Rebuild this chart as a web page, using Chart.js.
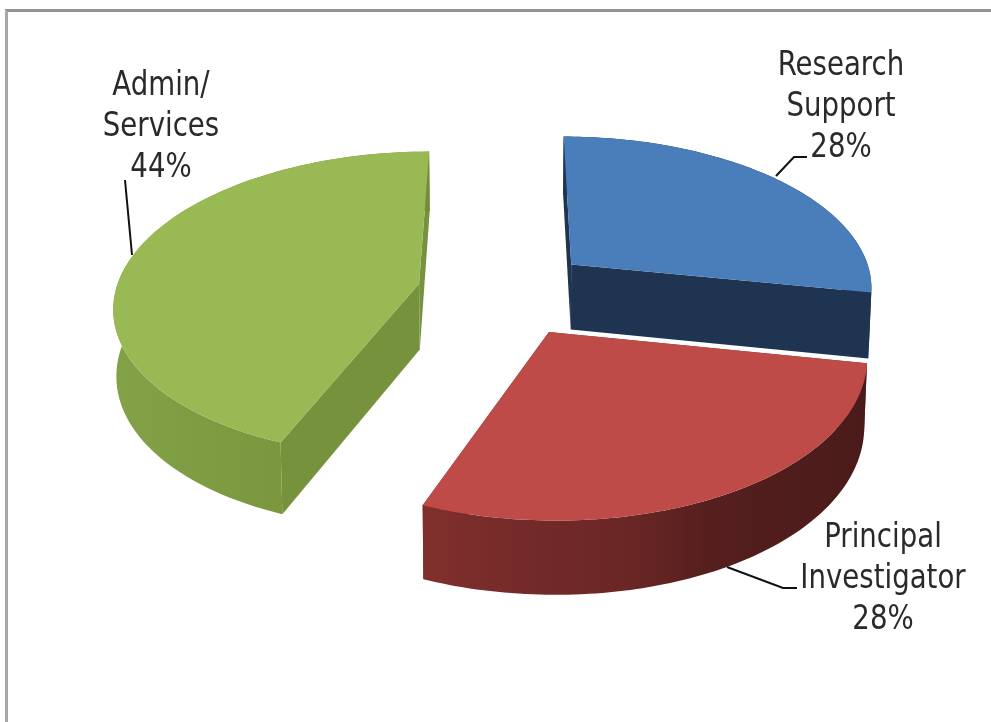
<!DOCTYPE html>
<html>
<head>
<meta charset="utf-8">
<title>Staff breakdown</title>
<script src="https://cdn.jsdelivr.net/npm/chart.js@4"></script>
<style>
  html, body { margin: 0; padding: 0; background: #fff; overflow: hidden; }
  #wrap { position: relative; width: 991px; height: 722px; overflow: hidden; }
  #frame { position: absolute; left: 5px; top: 9px; width: 1000px; height: 740px;
           border-top: 3px solid #929292; border-left: 3px solid #a8a8a8; box-sizing: border-box; pointer-events: none; }
</style>
</head>
<body>
<div id="wrap">
  <canvas id="piechart" width="991" height="722"></canvas>
  <div id="frame"></div>
</div>
<script>
const categories = ["Research Support", "Principal Investigator", "Admin/ Services"];
const labelLines = [["Research", "Support"], ["Principal", "Investigator"], ["Admin/", "Services"]];
const shares = [28, 28, 44];

const topColors = ["#4a7ebb", "#be4b48", "#98b954"];
const cutColors = ["#1f3450", "#7d2e2c", "#76923c"];
// horizontal shading along the outer wall of each slice
const wallStops = [
    [[0, "#1f3450"], [1, "#1f3450"]],
    [[0, "#812f2d"], [0.2, "#752b29"], [0.45, "#6b2725"], [0.65, "#551f1e"], [1, "#4a1b1a"]],
    [[0, "#83a146"], [0.5, "#7b9840"], [1, "#718d3a"]]
];

// perspective of the tilted pie
const tilt = { xScale: 1.04, yScale: 0.52, depth: 0.226, persp: 0.133, depthPersp: 0.1, shrink: 0.008, explode: 0.29 };

function project(arc, X, Y, Z) {
    const r = arc.outerRadius;
    const s = 1 / (1 - tilt.persp * Y);
    return {
        x: arc.x + r * tilt.xScale * X * s * (1 - tilt.shrink * Z),
        y: arc.y + r * tilt.yScale * Y * s + Z * r * tilt.depth * (1 + tilt.depthPersp * Y)
    };
}

function tracePts(ctx, pts) {
    ctx.beginPath();
    pts.forEach((p, i) => i ? ctx.lineTo(p.x, p.y) : ctx.moveTo(p.x, p.y));
    ctx.closePath();
}

function drawSlice(ctx, arc, index) {
    const mid = (arc.startAngle + arc.endAngle) / 2;
    const ax = tilt.explode * Math.cos(mid);
    const ay = tilt.explode * Math.sin(mid);
    const steps = 90;
    const rim = [];
    for (let i = 0; i <= steps; i++) {
        const a = arc.startAngle + (arc.endAngle - arc.startAngle) * i / steps;
        rim.push([ax + Math.cos(a), ay + Math.sin(a)]);
    }
    const top = rim.map(p => project(arc, p[0], p[1], 0));
    const bottom = rim.map(p => project(arc, p[0], p[1], 1));
    const apexTop = project(arc, ax, ay, 0);
    const apexBottom = project(arc, ax, ay, 1);

    // cut faces
    ctx.fillStyle = cutColors[index];
    tracePts(ctx, [apexTop, top[0], bottom[0], apexBottom]);
    ctx.fill();
    tracePts(ctx, [apexTop, top[steps], bottom[steps], apexBottom]);
    ctx.fill();

    // outer wall
    const xs = top.map(p => p.x);
    const grad = ctx.createLinearGradient(Math.min(...xs), 0, Math.max(...xs), 0);
    wallStops[index].forEach(st => grad.addColorStop(st[0], st[1]));
    ctx.fillStyle = grad;
    tracePts(ctx, top.concat(bottom.slice().reverse()));
    ctx.fill();

    // top face
    ctx.fillStyle = arc.options.backgroundColor;
    tracePts(ctx, [apexTop].concat(top));
    ctx.fill();
}

const pie3d = {
    id: "pie3d",
    beforeDatasetsDraw(chart) {
        const ctx = chart.ctx;
        const arcs = chart.getDatasetMeta(0).data;
        ctx.save();
        [0, 2, 1].forEach(i => drawSlice(ctx, arcs[i], i));
        ctx.restore();
        return false;
    }
};

// text centre, first baseline and leader path for each slice
const callouts = [
    { x: 841, y: 75, leader: [[776, 176], [794, 157], [807, 157]] },
    { x: 883, y: 547, leader: [[727, 567], [783, 588], [797, 588]] },
    { x: 161, y: 95, leader: [[132, 255], [125, 180]] }
];

const calloutPlugin = {
    id: "callouts",
    afterDraw(chart) {
        const ctx = chart.ctx;
        ctx.save();
        ctx.strokeStyle = "#111";
        ctx.lineWidth = 2;
        ctx.fillStyle = "#2a2a2a";
        ctx.textAlign = "center";
        ctx.font = "33px 'DejaVu Sans Condensed', 'DejaVu Sans'";
        callouts.forEach((c, i) => {
            ctx.beginPath();
            c.leader.forEach((p, k) => k ? ctx.lineTo(p[0], p[1]) : ctx.moveTo(p[0], p[1]));
            ctx.stroke();
            const lines = labelLines[i].concat(shares[i] + "%");
            lines.forEach((text, k) => {
                ctx.save();
                ctx.translate(c.x, c.y + k * 41);
                ctx.scale(0.93, 1);
                ctx.fillText(text, 0, 0);
                ctx.restore();
            });
        });
        ctx.restore();
    }
};

new Chart(document.getElementById("piechart").getContext("2d"), {
    type: "pie",
    data: {
        labels: categories,
        datasets: [{ data: shares, backgroundColor: topColors, borderWidth: 0 }]
    },
    options: {
        responsive: false,
        animation: false,
        layout: { padding: { left: 19, bottom: 138 } },
        plugins: { legend: { display: false }, tooltip: { enabled: false } }
    },
    plugins: [pie3d, calloutPlugin]
});
</script>
</body>
</html>
